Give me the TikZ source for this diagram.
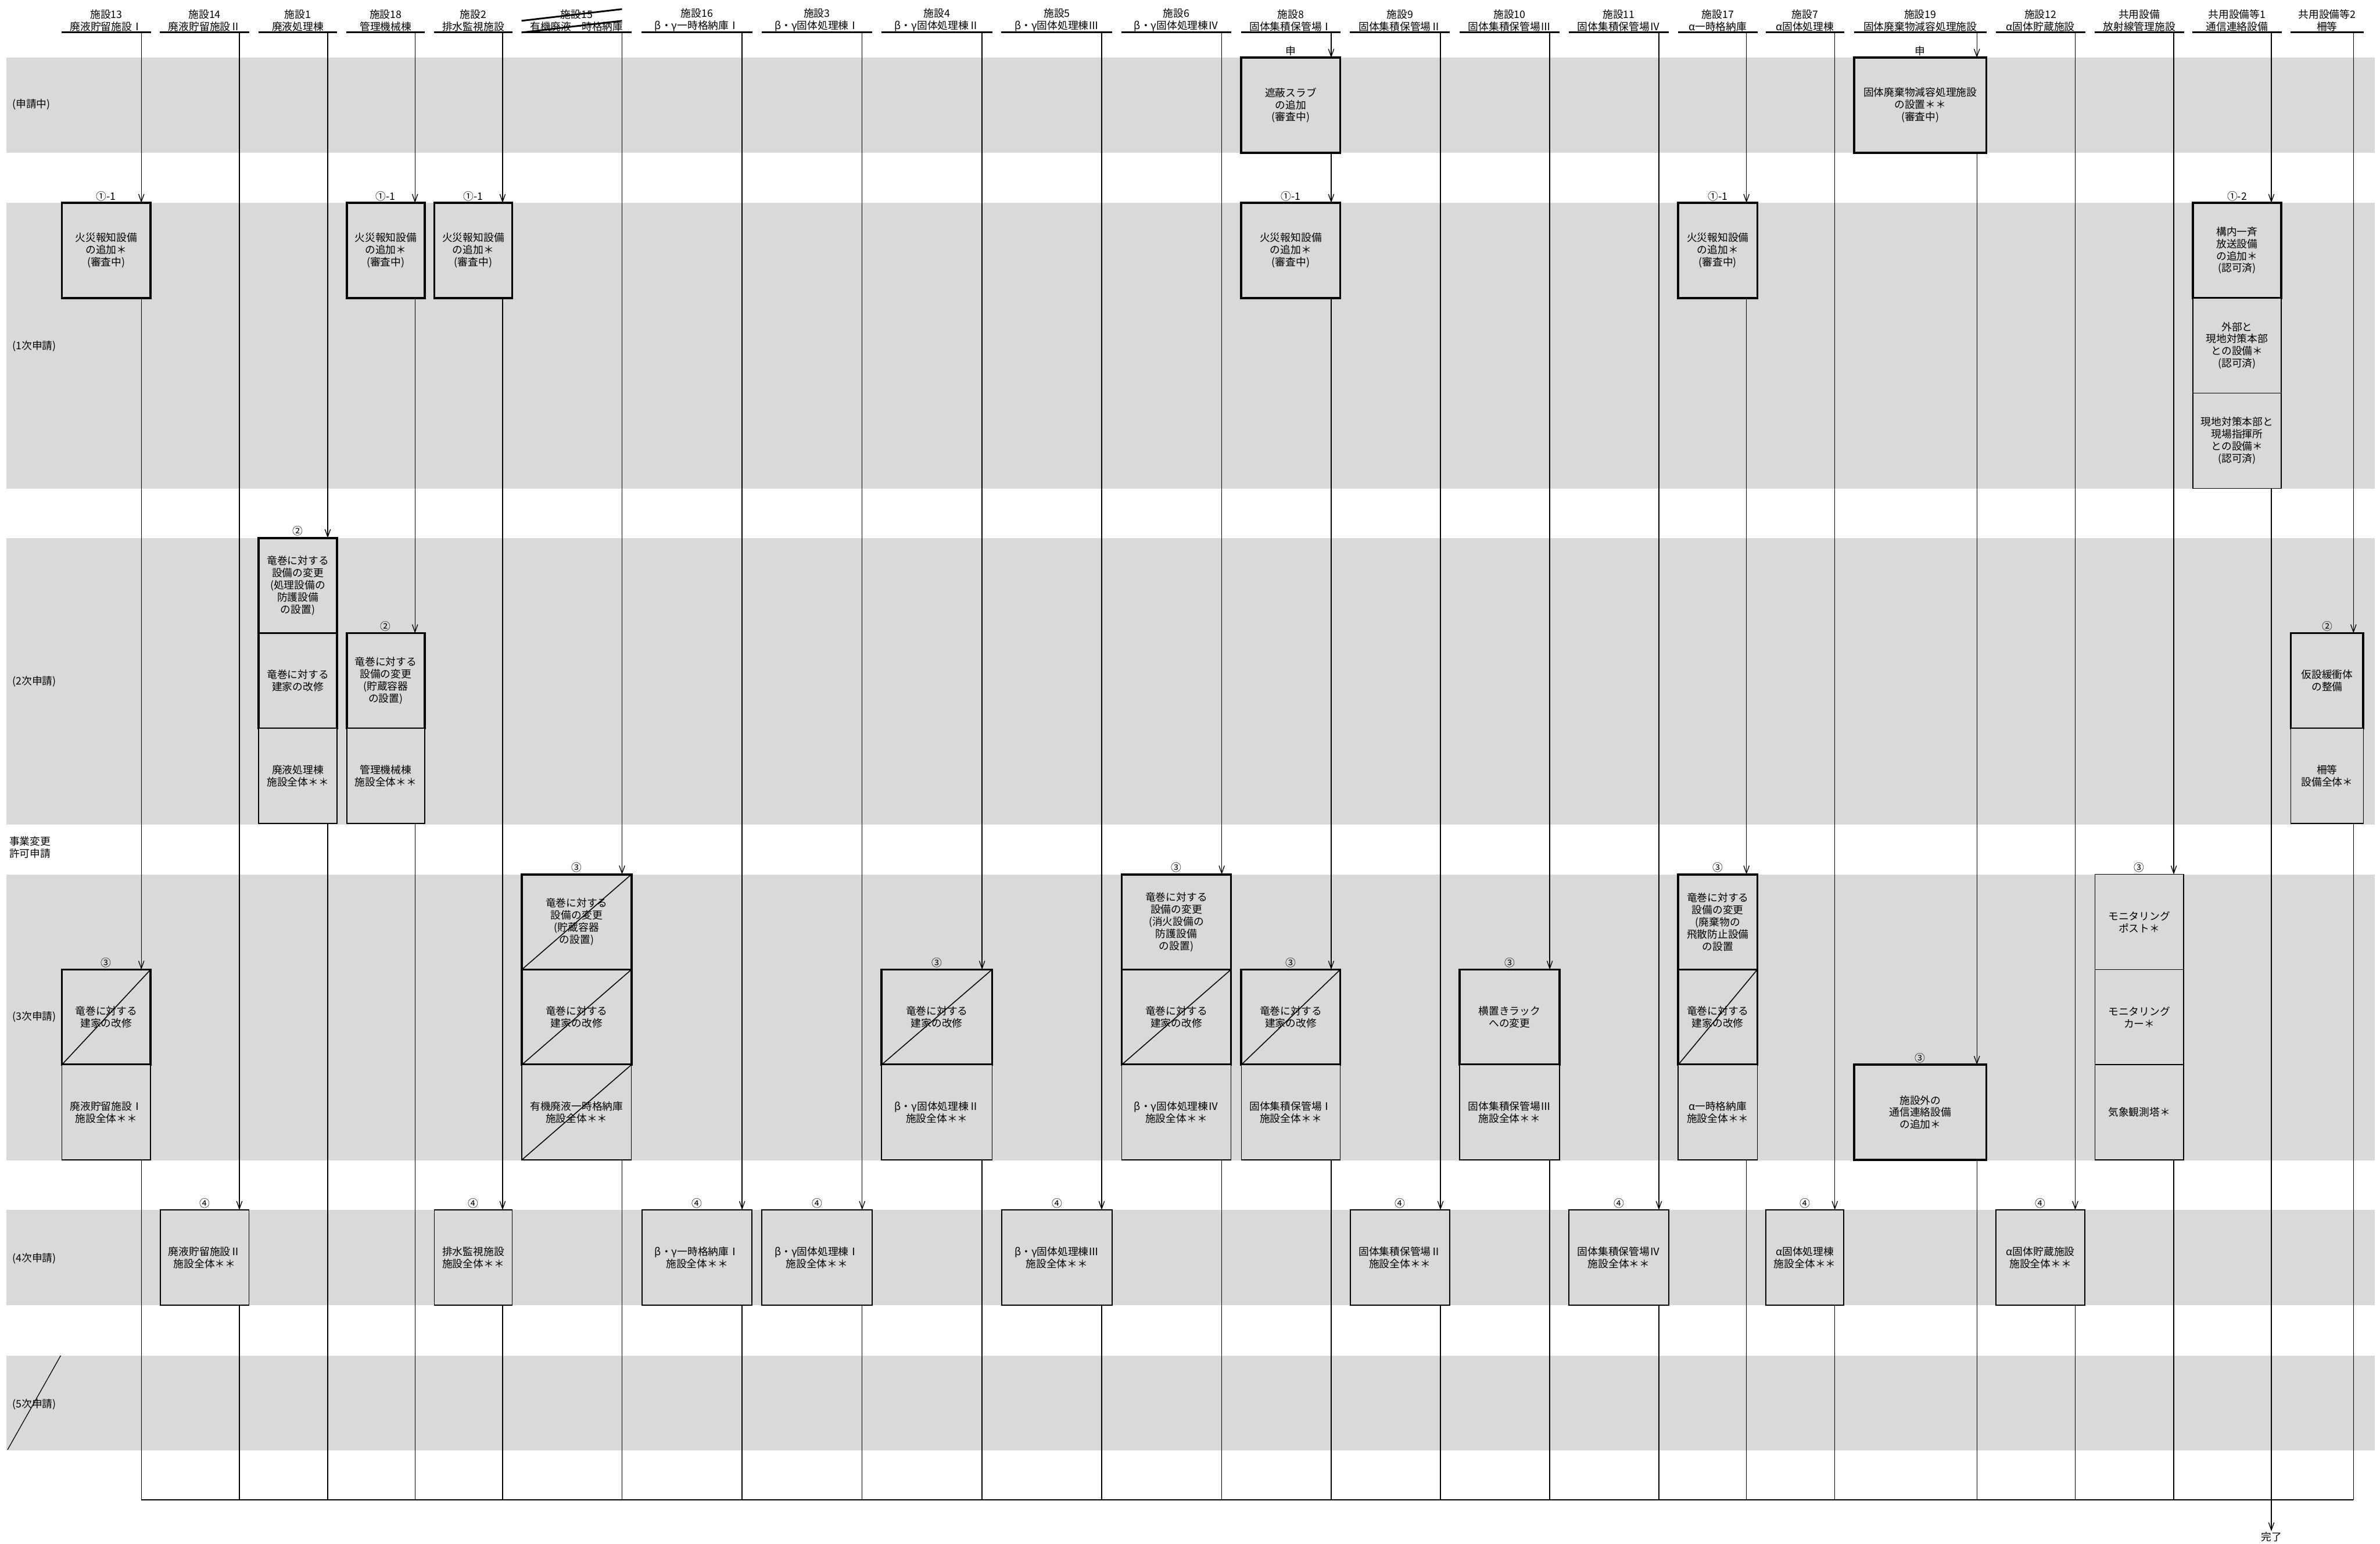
\documentclass[tikz,border=0pt]{standalone}
\usepackage{fontspec}
\setmainfont{Noto Sans CJK JP}
\usepackage{tikz}
\usetikzlibrary{positioning, arrows.meta}
\definecolor{bandgray}{RGB}{217, 217, 217}
\newcommand{\txtfont}{\fontsize{6.8}{8}\selectfont}

\tikzset{
  vline/.style={line width=0.5pt},
  flow/.style={vline, -{Straight Barb[length=5pt, width=3.6pt]}},
  head/.style={font=\txtfont, align=center, inner sep=0.6pt, anchor=south,
    append after command={\pgfextra{\draw[line width=1.1pt]
      (\tikzlastnode.south west) -- (\tikzlastnode.south east);}}},
  box/.style={draw, fill=bandgray, line width=0.6pt, minimum height=62.7pt,
    inner sep=0pt, outer sep=0pt, align=center, font=\txtfont, anchor=north},
  bold/.style={box, line width=1.4pt},
  struck/.style={path picture={\draw[line width=0.6pt]
    (path picture bounding box.south west) -- (path picture bounding box.north east);}},
  numlab/.style={font=\txtfont, inner sep=0.5pt, label distance=0.6pt},
  rowlab/.style={font=\txtfont, anchor=west, inner sep=0pt, align=left},
}

\begin{document}
\begin{tikzpicture}[x=1pt, y=-1pt]
    \useasboundingbox (0,0) rectangle (1568,1017);

    % Bands
    \fill[bandgray] (4.2,38) rectangle (1564.6,100.7);
    \fill[bandgray] (4.2,133.6) rectangle (1564.6,321.8);
    \fill[bandgray] (4.2,354.4) rectangle (1564.6,543.1);
    \fill[bandgray] (4.2,576) rectangle (1564.6,764.3);
    \fill[bandgray] (4.2,797) rectangle (1564.6,859.8);
    \fill[bandgray] (4.2,893) rectangle (1564.6,955.5);

    \coordinate (r0) at (0,38);
    \coordinate (r1) at (0,133.6);
    \coordinate (r2) at (0,354.4);
    \coordinate (r2b) at (0,417.1);
    \coordinate (r3) at (0,576);
    \coordinate (r3b) at (0,638.7);
    \coordinate (r3c) at (0,701.4);
    \coordinate (r4) at (0,797);
    \coordinate (bot) at (0,988);

    % Row labels
    \node[rowlab] (l0) at (8,69) {(申請中)};
    \node[rowlab] (l1) at (8,228) {(1次申請)};
    \node[rowlab] (l2) at (8,449) {(2次申請)};
    \node[rowlab, anchor=north west] (lx) at (6,551) {事業変更\\許可申請};
    \node[rowlab] (l3) at (8,670) {(3次申請)};
    \node[rowlab] (l4) at (8,829) {(4次申請)};
    \node[rowlab] (l5) at (8,925) {(5次申請)};
    \draw[vline] (5,955) -- (40,893);

    % Headers
    \node[head, minimum width=58.5pt] (h13) at (70,21.4) {施設13\\廃液貯留施設Ⅰ};
    \node[head, minimum width=58.5pt] (h14) at (134.8,21.4) {施設14\\廃液貯留施設Ⅱ};
    \node[head, minimum width=51.6pt] (h1) at (196.2,21.4) {施設1\\廃液処理棟};
    \node[head, minimum width=51.3pt] (h18) at (254.1,21.4) {施設18\\管理機械棟};
    \node[head, minimum width=51.4pt] (h2) at (311.8,21.4) {施設2\\排水監視施設};
    \node[head, minimum width=72.2pt] (h15) at (379.9,21.4) {施設15\\有機廃液一時格納庫};
    \node[head, minimum width=72.4pt] (h16) at (459.2,21.4) {施設16\\β・γ一時格納庫Ⅰ};
    \node[head, minimum width=72.6pt] (h3) at (538.2,21.4) {施設3\\β・γ固体処理棟Ⅰ};
    \node[head, minimum width=72.8pt] (h4) at (617.2,21.4) {施設4\\β・γ固体処理棟Ⅱ};
    \node[head, minimum width=72.7pt] (h5) at (696.3,21.4) {施設5\\β・γ固体処理棟Ⅲ};
    \node[head, minimum width=72pt] (h6) at (775,21.4) {施設6\\β・γ固体処理棟Ⅳ};
    \node[head, minimum width=65.2pt] (h8) at (850.4,21.4) {施設8\\固体集積保管場Ⅰ};
    \node[head, minimum width=65.4pt] (h9) at (922.3,21.4) {施設9\\固体集積保管場Ⅱ};
    \node[head, minimum width=65.7pt] (h10) at (994.5,21.4) {施設10\\固体集積保管場Ⅲ};
    \node[head, minimum width=65.7pt] (h11) at (1066.5,21.4) {施設11\\固体集積保管場Ⅳ};
    \node[head, minimum width=52.1pt] (h17) at (1131.7,21.4) {施設17\\α一時格納庫};
    \node[head, minimum width=51.3pt] (h7) at (1189.1,21.4) {施設7\\α固体処理棟};
    \node[head, minimum width=87pt] (h19) at (1265.1,21.4) {施設19\\固体廃棄物減容処理施設};
    \node[head, minimum width=58.5pt] (h12) at (1344.3,21.4) {施設12\\α固体貯蔵施設};
    \node[head, minimum width=58.4pt] (hk) at (1409.4,21.4) {共用設備\\放射線管理施設};
    \node[head, minimum width=58.2pt] (ht) at (1473.8,21.4) {共用設備等1\\通信連絡設備};
    \node[head, minimum width=47.8pt] (hs) at (1533.1,21.4) {共用設備等2\\柵等};

    % Column lines start under each header
    \coordinate (col13) at (93.1,21.4);
    \coordinate (col14) at (157.7,21.4);
    \coordinate (col1) at (215.9,21.4);
    \coordinate (col18) at (273.4,21.4);
    \coordinate (col2) at (331.1,21.4);
    \coordinate (col15) at (409.8,21.4);
    \coordinate (col16) at (488.9,21.4);
    \coordinate (col3) at (568,21.4);
    \coordinate (col4) at (647,21.4);
    \coordinate (col5) at (725.8,21.4);
    \coordinate (col6) at (804.9,21.4);
    \coordinate (col8) at (877,21.4);
    \coordinate (col9) at (949,21.4);
    \coordinate (col10) at (1021,21.4);
    \coordinate (col11) at (1092.9,21.4);
    \coordinate (col17) at (1150.6,21.4);
    \coordinate (col7) at (1208.8,21.4);
    \coordinate (col19) at (1302.4,21.4);
    \coordinate (col12) at (1367.2,21.4);
    \coordinate (colk) at (1432.1,21.4);
    \coordinate (colt) at (1496.4,21.4);
    \coordinate (cols) at (1550.5,21.4);

    % Struck-out header
    \draw[line width=1.1pt] (h15.south west) -- ([yshift=7.7pt]col15);
    \draw[line width=1.1pt] ([yshift=7.7pt]h15.south west) -- ([yshift=15.4pt]col15);

    % Under review
    \node[bold, minimum width=65.2pt, label={[numlab]above:申}] (s8) at (h8 |- r0) {遮蔽スラブ\\の追加\\(審査中)};
    \node[bold, minimum width=87pt, label={[numlab]above:申}] (s19) at (h19 |- r0) {固体廃棄物減容処理施設\\の設置＊＊\\(審査中)};

    % 1st application
    \node[bold, minimum width=58.5pt, label={[numlab]above:①-1}] (a13) at (h13 |- r1) {火災報知設備\\の追加＊\\(審査中)};
    \node[bold, minimum width=51.3pt, label={[numlab]above:①-1}] (a18) at (h18 |- r1) {火災報知設備\\の追加＊\\(審査中)};
    \node[bold, minimum width=51.4pt, label={[numlab]above:①-1}] (a2) at (h2 |- r1) {火災報知設備\\の追加＊\\(審査中)};
    \node[bold, minimum width=65.2pt, label={[numlab]above:①-1}] (a8) at (h8 |- r1) {火災報知設備\\の追加＊\\(審査中)};
    \node[bold, minimum width=52.1pt, label={[numlab]above:①-1}] (a17) at (h17 |- r1) {火災報知設備\\の追加＊\\(審査中)};
    \node[bold, minimum width=58.2pt, label={[numlab]above:①-2}] (a1a) at (ht |- r1) {構内一斉\\放送設備\\の追加＊\\(認可済)};
    \node[box, minimum width=58.2pt, below=0pt of a1a] (a1b) {外部と\\現地対策本部\\との設備＊\\(認可済)};
    \node[box, minimum width=58.2pt, below=0pt of a1b] (a1c) {現地対策本部と\\現場指揮所\\との設備＊\\(認可済)};

    % 2nd application
    \node[bold, minimum width=51.6pt, label={[numlab]above:②}] (b1a) at (h1 |- r2) {竜巻に対する\\設備の変更\\(処理設備の\\防護設備\\の設置)};
    \node[bold, minimum width=51.6pt, below=0pt of b1a] (b1b) {竜巻に対する\\建家の改修};
    \node[box, minimum width=51.6pt, below=0pt of b1b] (b1c) {廃液処理棟\\施設全体＊＊};
    \node[bold, minimum width=51.3pt, label={[numlab]above:②}] (b18a) at (h18 |- r2b) {竜巻に対する\\設備の変更\\(貯蔵容器\\の設置)};
    \node[box, minimum width=51.3pt, below=0pt of b18a] (b18b) {管理機械棟\\施設全体＊＊};
    \node[bold, minimum width=47.8pt, label={[numlab]above:②}] (bsa) at (hs |- r2b) {仮設緩衝体\\の整備};
    \node[box, minimum width=47.8pt, below=0pt of bsa] (bsb) {柵等\\設備全体＊};

    % 3rd application
    \node[bold, struck, minimum width=58.5pt, label={[numlab]above:③}] (c13a) at (h13 |- r3b) {竜巻に対する\\建家の改修};
    \node[box, minimum width=58.5pt, below=0pt of c13a] (c13b) {廃液貯留施設Ⅰ\\施設全体＊＊};
    \node[bold, struck, minimum width=72.2pt, label={[numlab]above:③}] (c15a) at (h15 |- r3) {竜巻に対する\\設備の変更\\(貯蔵容器\\の設置)};
    \node[bold, struck, minimum width=72.2pt, below=0pt of c15a] (c15b) {竜巻に対する\\建家の改修};
    \node[box, struck, minimum width=72.2pt, below=0pt of c15b] (c15c) {有機廃液一時格納庫\\施設全体＊＊};
    \node[bold, struck, minimum width=72.8pt, label={[numlab]above:③}] (c4a) at (h4 |- r3b) {竜巻に対する\\建家の改修};
    \node[box, minimum width=72.8pt, below=0pt of c4a] (c4b) {β・γ固体処理棟Ⅱ\\施設全体＊＊};
    \node[bold, minimum width=72pt, label={[numlab]above:③}] (c6a) at (h6 |- r3) {竜巻に対する\\設備の変更\\(消火設備の\\防護設備\\の設置)};
    \node[bold, struck, minimum width=72pt, below=0pt of c6a] (c6b) {竜巻に対する\\建家の改修};
    \node[box, minimum width=72pt, below=0pt of c6b] (c6c) {β・γ固体処理棟Ⅳ\\施設全体＊＊};
    \node[bold, struck, minimum width=65.2pt, label={[numlab]above:③}] (c8a) at (h8 |- r3b) {竜巻に対する\\建家の改修};
    \node[box, minimum width=65.2pt, below=0pt of c8a] (c8b) {固体集積保管場Ⅰ\\施設全体＊＊};
    \node[bold, minimum width=65.7pt, label={[numlab]above:③}] (c10a) at (h10 |- r3b) {横置きラック\\への変更};
    \node[box, minimum width=65.7pt, below=0pt of c10a] (c10b) {固体集積保管場Ⅲ\\施設全体＊＊};
    \node[bold, minimum width=52.1pt, label={[numlab]above:③}] (c17a) at (h17 |- r3) {竜巻に対する\\設備の変更\\(廃棄物の\\飛散防止設備\\の設置};
    \node[bold, struck, minimum width=52.1pt, below=0pt of c17a] (c17b) {竜巻に対する\\建家の改修};
    \node[box, minimum width=52.1pt, below=0pt of c17b] (c17c) {α一時格納庫\\施設全体＊＊};
    \node[bold, minimum width=87pt, label={[numlab]above:③}] (c19a) at (h19 |- r3c) {施設外の\\通信連絡設備\\の追加＊};
    \node[box, minimum width=58.4pt, label={[numlab]above:③}] (cka) at (hk |- r3) {モニタリング\\ポスト＊};
    \node[box, minimum width=58.4pt, below=0pt of cka] (ckb) {モニタリング\\カー＊};
    \node[box, minimum width=58.4pt, below=0pt of ckb] (ckc) {気象観測塔＊};

    % 4th application
    \node[box, minimum width=58.5pt, label={[numlab]above:④}] (d14) at (h14 |- r4) {廃液貯留施設Ⅱ\\施設全体＊＊};
    \node[box, minimum width=51.4pt, label={[numlab]above:④}] (d2) at (h2 |- r4) {排水監視施設\\施設全体＊＊};
    \node[box, minimum width=72.4pt, label={[numlab]above:④}] (d16) at (h16 |- r4) {β・γ一時格納庫Ⅰ\\施設全体＊＊};
    \node[box, minimum width=72.6pt, label={[numlab]above:④}] (d3) at (h3 |- r4) {β・γ固体処理棟Ⅰ\\施設全体＊＊};
    \node[box, minimum width=72.7pt, label={[numlab]above:④}] (d5) at (h5 |- r4) {β・γ固体処理棟Ⅲ\\施設全体＊＊};
    \node[box, minimum width=65.4pt, label={[numlab]above:④}] (d9) at (h9 |- r4) {固体集積保管場Ⅱ\\施設全体＊＊};
    \node[box, minimum width=65.7pt, label={[numlab]above:④}] (d11) at (h11 |- r4) {固体集積保管場Ⅳ\\施設全体＊＊};
    \node[box, minimum width=51.3pt, label={[numlab]above:④}] (d7) at (h7 |- r4) {α固体処理棟\\施設全体＊＊};
    \node[box, minimum width=58.5pt, label={[numlab]above:④}] (d12) at (h12 |- r4) {α固体貯蔵施設\\施設全体＊＊};

    % Column flows
    \draw[flow] (col13) -- (col13 |- a13.north);
    \draw[flow] (col13 |- a13.south) -- (col13 |- c13a.north);
    \draw[vline] (col13 |- c13b.south) -- (col13 |- bot);
    \draw[flow] (col14) -- (col14 |- d14.north);
    \draw[vline] (col14 |- d14.south) -- (col14 |- bot);
    \draw[flow] (col1) -- (col1 |- b1a.north);
    \draw[vline] (col1 |- b1c.south) -- (col1 |- bot);
    \draw[flow] (col18) -- (col18 |- a18.north);
    \draw[flow] (col18 |- a18.south) -- (col18 |- b18a.north);
    \draw[vline] (col18 |- b18b.south) -- (col18 |- bot);
    \draw[flow] (col2) -- (col2 |- a2.north);
    \draw[flow] (col2 |- a2.south) -- (col2 |- d2.north);
    \draw[vline] (col2 |- d2.south) -- (col2 |- bot);
    \draw[flow] (col15) -- (col15 |- c15a.north);
    \draw[vline] (col15 |- c15c.south) -- (col15 |- bot);
    \draw[flow] (col16) -- (col16 |- d16.north);
    \draw[vline] (col16 |- d16.south) -- (col16 |- bot);
    \draw[flow] (col3) -- (col3 |- d3.north);
    \draw[vline] (col3 |- d3.south) -- (col3 |- bot);
    \draw[flow] (col4) -- (col4 |- c4a.north);
    \draw[vline] (col4 |- c4b.south) -- (col4 |- bot);
    \draw[flow] (col5) -- (col5 |- d5.north);
    \draw[vline] (col5 |- d5.south) -- (col5 |- bot);
    \draw[flow] (col6) -- (col6 |- c6a.north);
    \draw[vline] (col6 |- c6c.south) -- (col6 |- bot);
    \draw[flow] (col8) -- (col8 |- s8.north);
    \draw[flow] (col8 |- s8.south) -- (col8 |- a8.north);
    \draw[flow] (col8 |- a8.south) -- (col8 |- c8a.north);
    \draw[vline] (col8 |- c8b.south) -- (col8 |- bot);
    \draw[flow] (col9) -- (col9 |- d9.north);
    \draw[vline] (col9 |- d9.south) -- (col9 |- bot);
    \draw[flow] (col10) -- (col10 |- c10a.north);
    \draw[vline] (col10 |- c10b.south) -- (col10 |- bot);
    \draw[flow] (col11) -- (col11 |- d11.north);
    \draw[vline] (col11 |- d11.south) -- (col11 |- bot);
    \draw[flow] (col17) -- (col17 |- a17.north);
    \draw[flow] (col17 |- a17.south) -- (col17 |- c17a.north);
    \draw[vline] (col17 |- c17c.south) -- (col17 |- bot);
    \draw[flow] (col7) -- (col7 |- d7.north);
    \draw[vline] (col7 |- d7.south) -- (col7 |- bot);
    \draw[flow] (col19) -- (col19 |- s19.north);
    \draw[flow] (col19 |- s19.south) -- (col19 |- c19a.north);
    \draw[vline] (col19 |- c19a.south) -- (col19 |- bot);
    \draw[flow] (col12) -- (col12 |- d12.north);
    \draw[vline] (col12 |- d12.south) -- (col12 |- bot);
    \draw[flow] (colk) -- (colk |- cka.north);
    \draw[vline] (colk |- ckc.south) -- (colk |- bot);
    \draw[flow] (colt) -- (colt |- a1a.north);
    \draw[vline] (colt |- a1c.south) -- (colt |- bot);
    \draw[flow] (cols) -- (cols |- bsa.north);
    \draw[vline] (cols |- bsb.south) -- (cols |- bot);

    % Merge and finish
    \draw[vline] (col13 |- bot) -- (cols |- bot);
    \node[font=\txtfont, inner sep=0.5pt] (done) at (1496.4,1012.5) {完了};
    \draw[flow] (colt |- bot) -- (done.north);
\end{tikzpicture}
\end{document}
